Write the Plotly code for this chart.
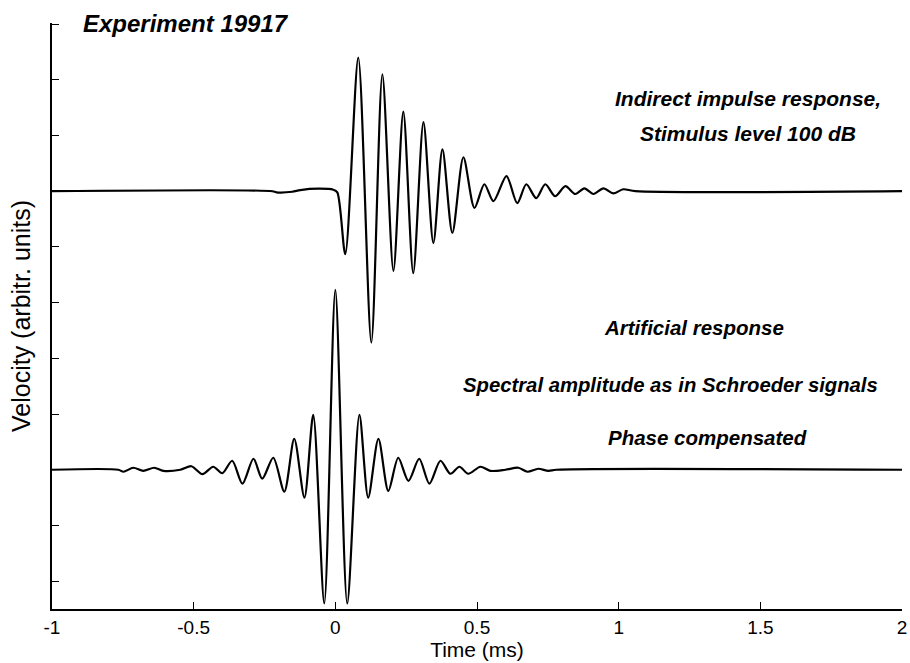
"""Indirect vs artificial impulse response, experiment 19917."""

import plotly.graph_objects as go

# Indirect impulse response (trace offset at 7 units)
indirect_t = [
    -1.0, -0.222, -0.208, -0.152, -0.124, -0.060, -0.007, 0.007, 0.035, 0.081,
    0.127, 0.166, 0.205, 0.240, 0.275, 0.311, 0.346, 0.378, 0.413, 0.452,
    0.491, 0.526, 0.558, 0.604, 0.642, 0.674, 0.709, 0.741, 0.776, 0.812,
    0.847, 0.879, 0.911, 0.946, 0.981, 1.016, 1.059, 2.0,
]
indirect_v = [
    7.0, 7.0, 6.98, 6.99, 7.02, 7.045, 7.027, 6.98, 5.87, 9.40,
    4.28, 9.10, 5.57, 8.43, 5.53, 8.24, 6.07, 7.75, 6.25, 7.61,
    6.70, 7.125, 6.82, 7.27, 6.785, 7.125, 6.875, 7.125, 6.91, 7.09,
    6.95, 7.05, 6.95, 7.05, 6.96, 7.035, 7.0, 7.0,
]

# Artificial response, phase compensated (trace offset at 2 units)
artificial_t = [
    -1.0, -0.766, -0.748, -0.713, -0.678, -0.639, -0.607, -0.547, -0.508, -0.469,
    -0.431, -0.399, -0.364, -0.328, -0.289, -0.258, -0.219, -0.180, -0.145, -0.109,
    -0.078, -0.039, 0.0, 0.042, 0.085, 0.116, 0.152, 0.187, 0.222, 0.258,
    0.296, 0.332, 0.371, 0.406, 0.438, 0.469, 0.512, 0.547, 0.600, 0.646,
    0.678, 0.716, 0.752, 0.780, 2.0,
]
artificial_v = [
    2.0, 2.0, 1.964, 2.036, 1.98, 2.036, 1.98, 2.0, 2.063, 1.92,
    2.054, 1.937, 2.161, 1.749, 2.197, 1.839, 2.215, 1.606, 2.556, 1.498,
    2.986, -0.40, 5.23, -0.40, 2.986, 1.498, 2.556, 1.62, 2.215, 1.80,
    2.197, 1.749, 2.161, 1.928, 2.054, 1.928, 2.054, 1.98, 2.0, 2.036,
    1.964, 2.018, 1.98, 2.0, 2.0,
]

x_ticks = [-1, -0.5, 0, 0.5, 1, 1.5, 2]
x_tick_labels = ["-1", "-0.5", "0", "0.5", "1", "1.5", "2"]
y_ticks = list(range(0, 11))

labels = [
    ("Experiment 19917", -0.896, 10.02, "left", 24),
    ("Indirect impulse response,", 1.458, 8.67, "center", 21),
    ("Stimulus level 100 dB", 1.458, 8.03, "center", 21),
    ("Artificial response", 1.267, 4.55, "center", 20.5),
    ("Spectral amplitude as in Schroeder signals", 1.182, 3.53, "center", 20.3),
    ("Phase compensated", 1.313, 2.58, "center", 20.5),
]

FONT = "Liberation Sans, Arial, sans-serif"

fig = go.Figure()
for t, v in [(indirect_t, indirect_v), (artificial_t, artificial_v)]:
    fig.add_trace(
        go.Scatter(
            x=t,
            y=v,
            mode="lines",
            line=dict(color="black", width=2.2, shape="spline", smoothing=0.8),
            showlegend=False,
            hoverinfo="skip",
        )
    )

for text, x, y, anchor, size in labels:
    fig.add_annotation(
        x=x,
        y=y,
        xref="x",
        yref="y",
        text=text,
        showarrow=False,
        xanchor=anchor,
        yanchor="middle",
        font=dict(family=FONT, size=size, color="black", weight="bold", style="italic"),
    )

fig.update_xaxes(
    range=[-1, 2],
    tickvals=x_ticks,
    ticktext=x_tick_labels,
    ticks="inside",
    ticklen=7,
    tickcolor="black",
    showline=True,
    linecolor="black",
    linewidth=1.5,
    showgrid=False,
    zeroline=False,
    automargin=False,
    tickfont=dict(family=FONT, size=19, color="black"),
    title=dict(text="Time (ms)", font=dict(family=FONT, size=21, color="black"), standoff=2),
)
fig.update_yaxes(
    range=[-0.5, 10.02],
    tickvals=y_ticks,
    showticklabels=False,
    ticks="inside",
    ticklen=7,
    tickcolor="black",
    showline=True,
    linecolor="black",
    linewidth=2,
    showgrid=False,
    zeroline=False,
    automargin=False,
    title=dict(
        text="Velocity (arbitr. units)",
        font=dict(family=FONT, size=25, color="black"),
        standoff=12,
    ),
)
fig.update_layout(
    width=910,
    height=663,
    margin=dict(l=52, r=8, t=23, b=54),
    plot_bgcolor="white",
    paper_bgcolor="white",
)

# drop the page's default body margin so the figure sits at the window corner
fig.write_html(
    "out.html",
    config={"displayModeBar": False},
    post_script="document.body.style.margin = '0';",
)
